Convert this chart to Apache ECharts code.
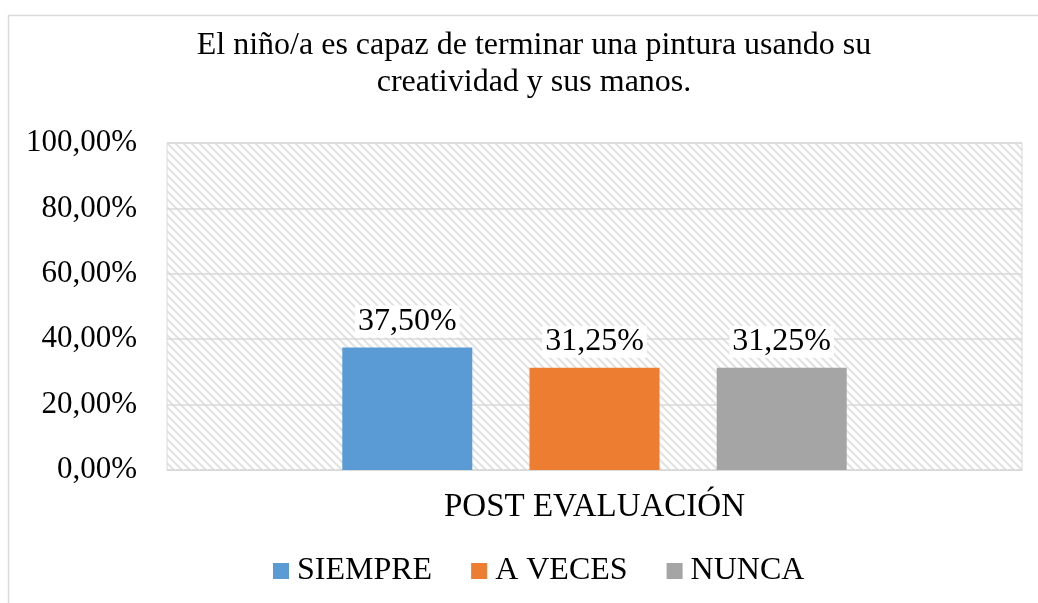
<!DOCTYPE html>
<html>
<head>
<meta charset="utf-8">
<title>Post evaluación</title>
<script src="https://cdn.jsdelivr.net/npm/echarts@6/dist/echarts.min.js"></script>
<style>
  html, body { margin: 0; padding: 0; background: #fff; }
  #chart { width: 1038px; height: 603px; }
</style>
</head>
<body>
<div id="chart"></div>
<script>
// datos
var categories = ['POST EVALUACIÓN'];
var seriesNames = ['SIEMPRE', 'A VECES', 'NUNCA'];
var seriesValues = [[37.5], [31.25], [31.25]];
var seriesColors = ['#5b9bd5', '#ed7d31', '#a5a5a5'];
var yTicks = [0, 20, 40, 60, 80, 100];

var FONT = '"Liberation Serif", "Times New Roman", serif';

function pct(v) {
  return v.toFixed(2).replace('.', ',') + '%';
}

// trama diagonal del fondo
function hatch() {
  var c = document.createElement('canvas');
  c.width = 8; c.height = 8;
  var ctx = c.getContext('2d');
  ctx.fillStyle = '#ffffff';
  ctx.fillRect(0, 0, 8, 8);
  ctx.strokeStyle = '#e2e2e2';
  ctx.lineWidth = 2.2;
  ctx.beginPath();
  ctx.moveTo(-2, -2); ctx.lineTo(10, 10);
  ctx.moveTo(-2, 6); ctx.lineTo(2, 10);
  ctx.moveTo(6, -2); ctx.lineTo(10, 2);
  ctx.stroke();
  return c;
}

var myChart = echarts.init(document.getElementById('chart'));

var series = seriesNames.map(function (name, i) {
  return {
    name: name,
    type: 'bar',
    data: seriesValues[i],
    barWidth: 130,
    barGap: '44%',
    itemStyle: { color: seriesColors[i] },
    label: {
      show: true,
      position: 'top',
      distance: 10,
      fontFamily: FONT,
      fontSize: 32,
      color: '#000',
      backgroundColor: '#fff',
      padding: [0, 3],
      formatter: function (p) { return pct(p.value); }
    }
  };
});

myChart.setOption({
  animation: false,
  backgroundColor: '#fff',
  title: {
    text: 'El niño/a es capaz de terminar una pintura usando su\ncreatividad y sus manos.',
    left: 529,
    textAlign: 'center',
    top: 22,
    textStyle: {
      fontFamily: FONT,
      fontSize: 32,
      fontWeight: 'normal',
      color: '#000',
      lineHeight: 37
    }
  },
  graphic: [{
    type: 'rect',
    shape: { x: 8.5, y: 15.5, width: 1040, height: 600 },
    style: { fill: 'none', stroke: '#d9d9d9', lineWidth: 1.5 },
    silent: true
  }],
  legend: {
    data: seriesNames,
    top: 550,
    left: 268,
    icon: 'rect',
    itemWidth: 16,
    itemHeight: 16,
    itemGap: 39,
    textStyle: { fontFamily: FONT, fontSize: 32, color: '#000', padding: [0, 0, 0, 3] }
  },
  grid: {
    left: 167,
    right: 16,
    top: 143,
    bottom: 133,
    show: true,
    backgroundColor: { image: hatch(), repeat: 'repeat' },
    borderColor: '#d9d9d9',
    borderWidth: 1
  },
  xAxis: {
    type: 'category',
    data: categories,
    axisLine: { lineStyle: { color: '#d9d9d9' } },
    axisTick: { show: false },
    axisLabel: { margin: 21, fontFamily: FONT, fontSize: 33, color: '#000' }
  },
  yAxis: {
    type: 'value',
    min: yTicks[0],
    max: yTicks[yTicks.length - 1],
    interval: yTicks[1] - yTicks[0],
    axisLine: { show: false },
    axisTick: { show: false },
    splitLine: { lineStyle: { color: '#d9d9d9', width: 1.5 } },
    axisLabel: {
      margin: 30,
      fontFamily: FONT,
      fontSize: 31,
      color: '#000',
      formatter: function (v) { return pct(v); }
    }
  },
  series: series
});
</script>
</body>
</html>
